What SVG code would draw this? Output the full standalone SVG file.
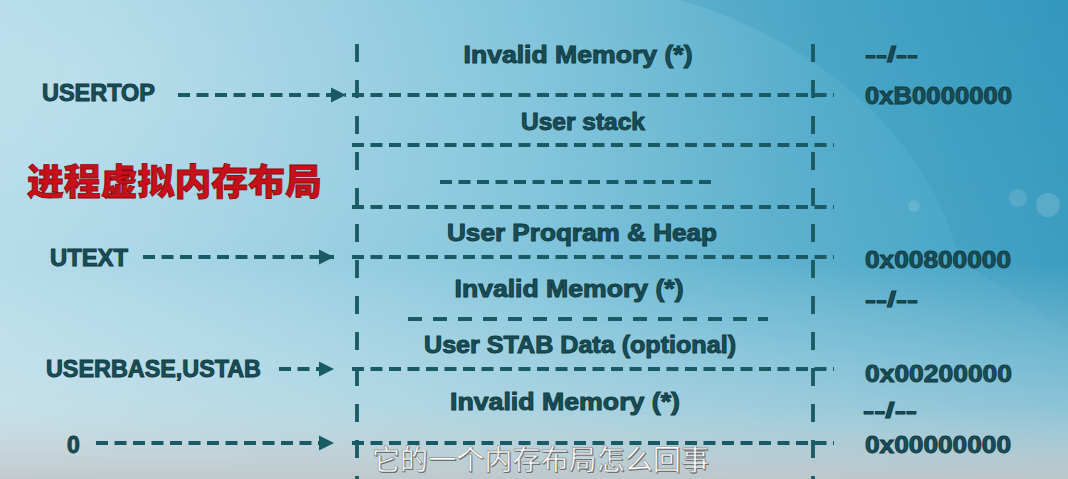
<svg xmlns="http://www.w3.org/2000/svg" width="1068" height="479" viewBox="0 0 1068 479">
<defs>
<linearGradient id="bg" x1="0" y1="0" x2="1" y2="0">
<stop offset="0" stop-color="#a3d3e4"/>
<stop offset="0.5" stop-color="#72bdd6"/>
<stop offset="1" stop-color="#369cc0"/>
</linearGradient>
<linearGradient id="fade" x1="0" y1="0" x2="0" y2="1">
<stop offset="0" stop-color="#ffffff" stop-opacity="0"/>
<stop offset="0.55" stop-color="#ffffff" stop-opacity="0.05"/>
<stop offset="0.85" stop-color="#e2eaec" stop-opacity="0.5"/>
<stop offset="1" stop-color="#c3c9cb" stop-opacity="0.95"/>
</linearGradient>
<radialGradient id="glow" cx="0.3" cy="0.35" r="0.6">
<stop offset="0" stop-color="#ffffff" stop-opacity="0.3"/>
<stop offset="1" stop-color="#ffffff" stop-opacity="0"/>
</radialGradient>
<marker id="arr" viewBox="0 0 10 10" refX="10" refY="5" markerWidth="4" markerHeight="4" orient="auto" markerUnits="strokeWidth">
<path d="M0,0 L10,5 L0,10 z" fill="#1a5a64"/>
</marker>
<style>
.lbl{font-family:"Liberation Sans",Arial,sans-serif;font-weight:bold;fill:#184f59;stroke:#103a41;stroke-width:0.9;}
.mid{text-anchor:middle;}
.v{stroke:#1a5a64;stroke-width:3.8;stroke-dasharray:18 18;fill:none;}
.h{stroke:#1a5a64;stroke-width:3.8;stroke-dasharray:12 6.5;fill:none;}
.a{stroke:#1a5a64;stroke-width:3.8;stroke-dasharray:12 6.5;fill:none;}
.sub{font-family:"Noto Sans CJK SC",sans-serif;font-size:28px;}
</style>
</defs>
<rect width="1068" height="479" fill="url(#bg)"/>
<ellipse cx="330" cy="170" rx="620" ry="330" fill="url(#glow)"/>
<path d="M0,0 L680,0 C820,40 930,140 960,260 L1068,330 L1068,0 Z" fill="#2a8cb6" opacity="0.2"/>
<rect width="1068" height="479" fill="url(#fade)"/>
<circle cx="1048" cy="205" r="12" fill="#ffffff" opacity="0.15"/>
<circle cx="1018" cy="198" r="9" fill="#ffffff" opacity="0.12"/>
<circle cx="914" cy="206" r="6" fill="#ffffff" opacity="0.12"/>

<g id="connectors">
<line class="v" x1="357" y1="44" x2="357" y2="479"/>
<line class="v" x1="813" y1="44" x2="813" y2="479"/>
<line class="h" x1="352" y1="95" x2="834" y2="95"/>
<line class="h" x1="352" y1="145" x2="834" y2="145"/>
<line class="h" x1="440" y1="182" x2="716" y2="182"/>
<line class="h" x1="352" y1="207" x2="834" y2="207"/>
<line class="h" x1="352" y1="257" x2="834" y2="257"/>
<line class="h" x1="408" y1="319" x2="768" y2="319" style="stroke-dasharray:14 11"/>
<line class="h" x1="352" y1="369" x2="834" y2="369"/>
<line class="h" x1="352" y1="443" x2="834" y2="443"/>
<line class="a" x1="178" y1="95" x2="346" y2="95" marker-end="url(#arr)"/>
<line class="a" x1="143" y1="257" x2="334" y2="257" marker-end="url(#arr)"/>
<line class="a" x1="279" y1="369" x2="334" y2="369" marker-end="url(#arr)"/>
<line class="a" x1="96" y1="443" x2="334" y2="443" marker-end="url(#arr)"/>
</g>

<g id="region-invalid-top"><text class="lbl mid" x="578" y="63" font-size="23" textLength="229" lengthAdjust="spacingAndGlyphs">Invalid Memory (*)</text></g>
<g id="region-stack"><text class="lbl mid" x="583" y="130" font-size="23" textLength="124" lengthAdjust="spacingAndGlyphs">User stack</text></g>
<g id="region-program"><text class="lbl mid" x="582" y="241" font-size="23" textLength="270" lengthAdjust="spacingAndGlyphs">User Proqram &amp; Heap</text></g>
<g id="region-invalid-mid"><text class="lbl mid" x="569" y="297" font-size="23" textLength="229" lengthAdjust="spacingAndGlyphs">Invalid Memory (*)</text></g>
<g id="region-stab"><text class="lbl mid" x="580" y="353" font-size="23" textLength="312" lengthAdjust="spacingAndGlyphs">User STAB Data (optional)</text></g>
<g id="region-invalid-bottom"><text class="lbl mid" x="565" y="410" font-size="23" textLength="230" lengthAdjust="spacingAndGlyphs">Invalid Memory (*)</text></g>

<g id="label-usertop"><text class="lbl" x="42" y="101" font-size="23" textLength="113" lengthAdjust="spacingAndGlyphs">USERTOP</text></g>
<g id="label-utext"><text class="lbl" x="50" y="266" font-size="23" textLength="78" lengthAdjust="spacingAndGlyphs">UTEXT</text></g>
<g id="label-userbase"><text class="lbl" x="46" y="377" font-size="23" textLength="215" lengthAdjust="spacingAndGlyphs">USERBASE,USTAB</text></g>
<g id="label-zero"><text class="lbl" x="67" y="453" font-size="23">0</text></g>

<g id="title"><text x="27" y="195" font-family="'Noto Sans CJK SC',sans-serif" font-weight="900" font-size="36" fill="#c8101a" stroke="#8a0a10" stroke-width="0.8" textLength="295" lengthAdjust="spacingAndGlyphs">进程虚拟内存布局</text></g>

<g id="addr-top-break"><text class="lbl" x="865" y="62" font-size="22" textLength="53" lengthAdjust="spacingAndGlyphs">--/--</text></g>
<g id="addr-b0000000"><text class="lbl" x="865" y="104" font-size="23" textLength="147" lengthAdjust="spacingAndGlyphs">0xB0000000</text></g>
<g id="addr-00800000"><text class="lbl" x="865" y="268" font-size="23" textLength="146" lengthAdjust="spacingAndGlyphs">0x00800000</text></g>
<g id="addr-mid-break"><text class="lbl" x="865" y="307" font-size="22" textLength="53" lengthAdjust="spacingAndGlyphs">--/--</text></g>
<g id="addr-00200000"><text class="lbl" x="865" y="382" font-size="23" textLength="147" lengthAdjust="spacingAndGlyphs">0x00200000</text></g>
<g id="addr-low-break"><text class="lbl" x="863" y="418" font-size="22" textLength="54" lengthAdjust="spacingAndGlyphs">--/--</text></g>
<g id="addr-00000000"><text class="lbl" x="865" y="453" font-size="23" textLength="146" lengthAdjust="spacingAndGlyphs">0x00000000</text></g>

<g id="subtitle">
<text class="sub" x="373" y="471" fill="#3a3a3a" opacity="0.6" textLength="337" lengthAdjust="spacingAndGlyphs">它的一个内存布局怎么回事</text>
<text class="sub" x="372" y="470" fill="#ffffff" stroke="#6a6a6a" stroke-width="0.4" textLength="337" lengthAdjust="spacingAndGlyphs">它的一个内存布局怎么回事</text>
</g>
</svg>
